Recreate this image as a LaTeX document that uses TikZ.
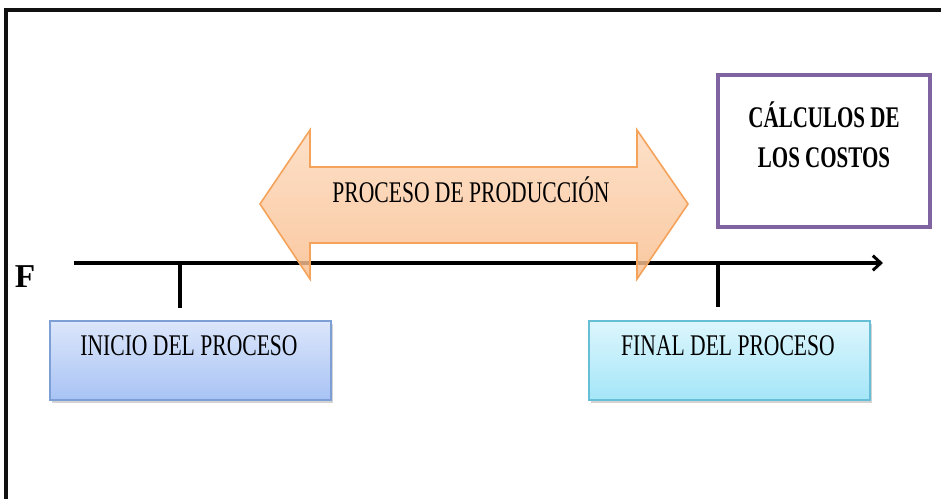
\documentclass[tikz,border=0pt]{standalone}
\usepackage{fontspec}
\setmainfont{Liberation Serif}
\newfontfamily\condfont[FakeStretch=0.72]{Liberation Serif}
\newfontfamily\condbold[FakeStretch=0.70]{Liberation Serif Bold}
\usetikzlibrary{arrows.meta,shadows}
\definecolor{frameblack}{HTML}{111111}
\definecolor{arrowfillA}{HTML}{FCD9BC}
\definecolor{arrowfillB}{HTML}{F9BD8C}
\definecolor{arrowline}{HTML}{F5A25A}
\definecolor{blueA}{HTML}{DCE6FB}
\definecolor{blueB}{HTML}{A8C3F4}
\definecolor{blueline}{HTML}{7E9FD6}
\definecolor{cyanA}{HTML}{DDF6FD}
\definecolor{cyanB}{HTML}{A4E6F8}
\definecolor{cyanline}{HTML}{66BFD6}
\definecolor{costline}{HTML}{8064A2}
\tikzset{
  stagebox/.style={draw, line width=1.2, drop shadow={shadow xshift=1.5pt, shadow yshift=-2pt, opacity=0.35}},
  stagetext/.style={font=\condfont\fontsize{22.5}{24}\selectfont, text=black},
  tick/.style={line width=3, black},
}
\begin{document}
\begin{tikzpicture}[x=0.75pt,y=-0.75pt]
\useasboundingbox (0,0) rectangle (941,499);
% outer frame (cut at the right and bottom)
\draw[line width=2.6, frameblack] (6,499) -- (6,10) -- (941,10);

% cost box
\node[draw=costline, line width=3, minimum width=212*0.75pt, minimum height=152*0.75pt, inner sep=0pt]
  (cost) at (824,151) {};
\node[font=\condbold\fontsize{22.5}{30}\selectfont, align=center] (costtext) at (824,135)
  {CÁLCULOS DE\\LOS COSTOS};

% time line with ticks
\coordinate (tstart) at (74,263);
\coordinate (tend) at (883,263);
\draw[line width=3, -{Straight Barb[length=6pt,width=11pt,line width=2.2pt]}] (tstart) -- (tend);
\node[font=\bfseries\fontsize{25}{26}\selectfont] (flabel) at (25,277) {F};

% stage boxes
\node[stagebox, draw=blueline, top color=blueA, bottom color=blueB,
  minimum width=281*0.75pt, minimum height=79*0.75pt, inner sep=0pt] (inicio) at (190.5,360.5) {};
\node[stagetext] (iniciotext) at (189,346) {INICIO DEL PROCESO};
\node[stagebox, draw=cyanline, top color=cyanA, bottom color=cyanB,
  minimum width=281*0.75pt, minimum height=79*0.75pt, inner sep=0pt] (final) at (729.5,360.5) {};
\node[stagetext] (finaltext) at (728,346) {FINAL DEL PROCESO};

\coordinate (tickA) at (180,263);
\coordinate (tickB) at (718,263);
\draw[tick] (tickA) -- (tickA |- 0,308);
\draw[tick] (tickB) -- (tickB |- 0,307);

% double arrow for the production process
\path[draw=arrowline, line width=1.2, top color=arrowfillA, bottom color=arrowfillB, fill opacity=0.82]
  (260,204) -- (310,130) -- (310,167) -- (637,167) -- (637,130) -- (688,204)
  -- (637,279) -- (637,243) -- (310,243) -- (310,279) -- cycle;
\node[stagetext] (proceso) at (471,190) {PROCESO DE PRODUCCIÓN};
\end{tikzpicture}
\end{document}
